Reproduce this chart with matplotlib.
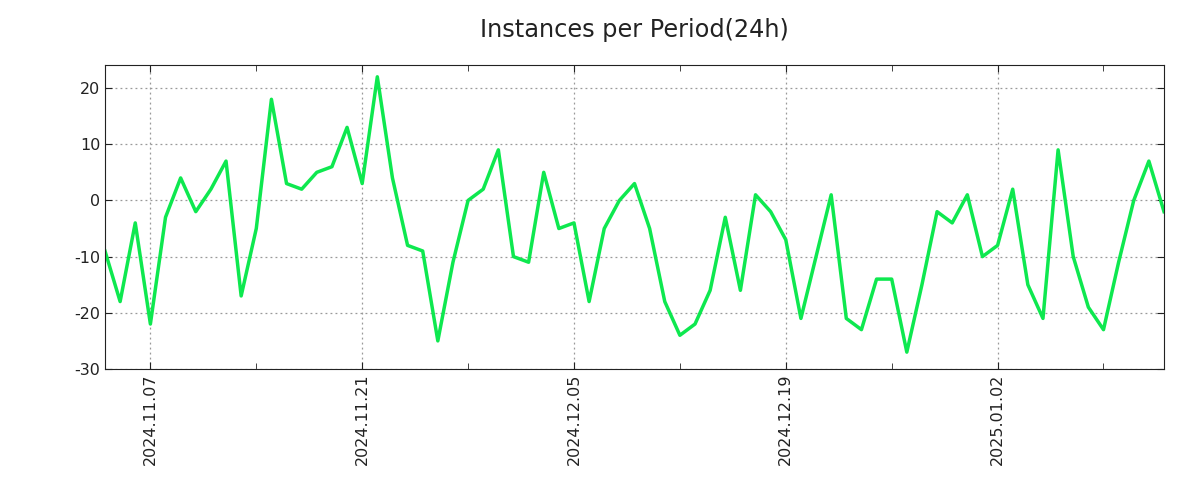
import datetime as dt
import matplotlib
matplotlib.use("Agg")
import matplotlib.pyplot as plt
import matplotlib.dates as mdates

plt.rcParams['axes.unicode_minus'] = False

start = dt.date(2024, 11, 4)
counts = [-9, -18, -4, -22, -3, 4, -2, 2, 7, -17,
          -5, 18, 3, 2, 5, 6, 13, 3, 22, 4,
          -8, -9, -25, -11, 0, 2, 9, -10, -11, 5,
          -5, -4, -18, -5, 0, 3, -5, -18, -24, -22,
          -16, -3, -16, 1, -2, -7, -21, -10, 1, -21,
          -23, -14, -14, -27, -15, -2, -4, 1, -10, -8,
          2, -15, -21, 9, -10, -19, -23, -11, 0, 7,
          -2]
days = [start + dt.timedelta(days=i) for i in range(len(counts))]

major = [dt.date(2024, 11, 7) + dt.timedelta(days=14 * k) for k in range(5)]
minor = [dt.date(2024, 11, 7) + dt.timedelta(days=7 * k) for k in range(10)]

fig = plt.figure(figsize=(12, 5), dpi=100)
ax = fig.add_axes([0.0875, 0.262, 0.8825, 0.608])

ax.plot(days, counts, color='#0ee84f', linewidth=2.5)

ax.set_xlim(days[0], days[-1])
ax.set_ylim(-30, 24.1)
ax.set_yticks([-30, -20, -10, 0, 10, 20])

ax.set_xticks(major)
ax.set_xticks(minor, minor=True)
ax.xaxis.set_major_formatter(mdates.DateFormatter('%Y.%m.%d'))
for lab in ax.get_xticklabels():
    lab.set_rotation(90)

ax.tick_params(which='both', direction='in', top=True, right=True,
               labelsize=11.5, labelcolor='#222222', color='#222222')
ax.tick_params(which='major', length=5)
ax.tick_params(which='minor', length=4)
ax.tick_params(axis='x', pad=3)

ax.grid(True, which='major', linestyle=(0, (1.5, 2.5)), color='#999999', linewidth=0.9)
for s in ax.spines.values():
    s.set_color('#222222')

ax.set_title('Instances per Period(24h)', fontsize=17.3, color='#222222', pad=20)

fig.savefig('out.png')
